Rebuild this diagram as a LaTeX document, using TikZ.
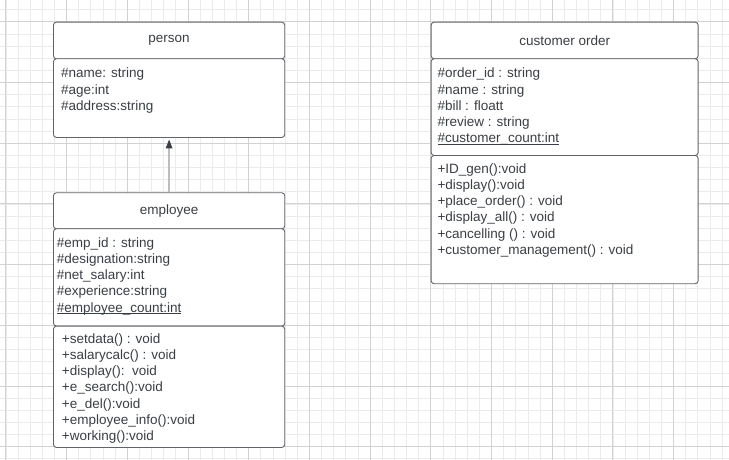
\documentclass[tikz,border=0pt]{standalone}
\usepackage{fontspec}
\setmainfont{Liberation Sans}
\usetikzlibrary{arrows.meta}
\definecolor{gridminor}{HTML}{EBEBEB}
\definecolor{gridmajor}{HTML}{D2D2D2}
\definecolor{boxline}{HTML}{606368}
\definecolor{labeltext}{HTML}{3A3F45}
\definecolor{arrowline}{HTML}{BDBDBD}
% underline for static members, close to the baseline
\newcommand{\staticmember}[1]{\setbox0\hbox{#1}\rlap{\rule[-1.4pt]{\wd0}{0.7pt}}\box0}
\tikzset{
  classbox/.style={draw=boxline, line width=0.9pt, rounded corners=3pt, fill=white,
    anchor=north west, inner sep=0pt, text=labeltext, font=\fontsize{13.5}{16.3}\selectfont},
  members/.style={anchor=north west, inner sep=0pt, align=left, text=labeltext,
    font=\fontsize{13.5}{16.3}\selectfont},
  inherit/.style={draw=arrowline, line width=1.6pt, shorten >=1.5pt,
    -{Triangle[width=6.5pt,length=9pt,color=labeltext]}}
}
\begin{document}
\begin{tikzpicture}[x=1pt,y=-1pt]
        \useasboundingbox (0,0) rectangle (729,460);
        % Draw the background grid
        \foreach \i in {-35,...,24} {
            \draw[gridminor, line width=0.6pt] ({430.7+12.14*\i},0) -- ({430.7+12.14*\i},460);
        }
        \foreach \j in {-1,...,36} {
            \draw[gridminor, line width=0.6pt] (0,{21.7+12.14*\j}) -- (729,{21.7+12.14*\j});
        }
        \foreach \i in {-35,-30,...,20} {
            \draw[gridmajor, line width=0.8pt] ({430.7+12.14*\i},0) -- ({430.7+12.14*\i},460);
        }
        \foreach \j in {0,5,...,35} {
            \draw[gridmajor, line width=0.8pt] (0,{21.7+12.14*\j}) -- (729,{21.7+12.14*\j});
        }
        % person class
        \node[classbox, minimum width=231.3pt, minimum height=36.6pt] (personhead) at (53,21.7) {person};
        \node[classbox, minimum width=231.3pt, minimum height=78.7pt] (personattr) at (53,58.3) {};
        \node[members] (personattrtext) at ([shift={(8,9.5)}]personattr.north west)
            {\#name: string\\ \#age:int\\ \#address:string};
        % employee class
        \node[classbox, minimum width=231.3pt, minimum height=36pt] (employeehead) at (53,192.3) {employee};
        \node[classbox, minimum width=231.3pt, minimum height=97.4pt] (employeeattr) at (53,228.3) {};
        \node[classbox, minimum width=231.3pt, minimum height=121.3pt] (employeeops) at (53,325.7) {};
        \node[members] (employeeattrtext) at ([shift={(3.7,8.8)}]employeeattr.north west)
            {\#emp\_id : string\\ \#designation:string\\ \#net\_salary:int\\ \#experience:string\\
             \staticmember{\#employee\_count:int}};
        \node[members] (employeeopstext) at ([shift={(8.7,7.4)}]employeeops.north west)
            {+setdata() : void\\ +salarycalc() : void\\ +display():~~void\\ +e\_search():void\\
             +e\_del():void\\ +employee\_info():void\\ +working():void};
        % customer order class
        \node[classbox, minimum width=267pt, minimum height=36.6pt] (orderhead) at (430.7,21.7) {customer order};
        \node[classbox, minimum width=267pt, minimum height=96.7pt] (orderattr) at (430.7,58.3) {};
        \node[classbox, minimum width=267pt, minimum height=128.3pt] (orderops) at (430.7,155) {};
        \node[members] (orderattrtext) at ([shift={(6.6,9.5)}]orderattr.north west)
            {\#order\_id : string\\ \#name : string\\ \#bill : floatt\\ \#review : string\\
             \staticmember{\#customer\_count:int}};
        \node[members] (orderopstext) at ([shift={(6.6,8.1)}]orderops.north west)
            {+ID\_gen():void\\ +display():void\\ +place\_order() : void\\ +display\_all() : void\\
             +cancelling () : void\\ +customer\_management() : void};
        % Inheritance arrow
        \draw[inherit] (employeehead.north) -- (personattr.south);
    \end{tikzpicture}
\end{document}
